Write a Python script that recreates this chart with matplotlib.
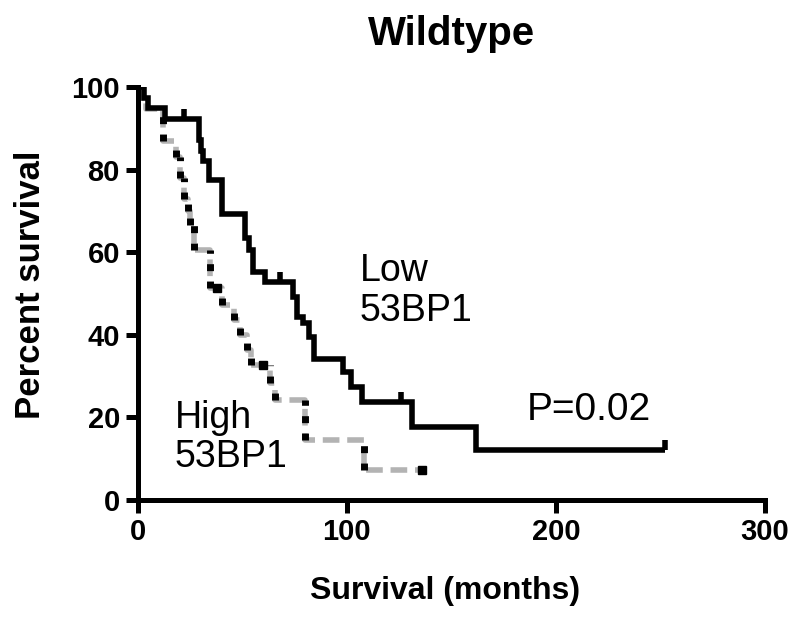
import matplotlib.pyplot as plt
import numpy as np

# Kaplan-Meier curves (time in months, percent survival)
low_t = [0, 3, 5, 13, 29, 30, 31, 34, 40, 51, 53, 55, 61, 74, 76, 79, 82, 84, 98, 102, 107, 131, 162, 252]
low_s = [100, 97.4, 94.9, 92.3, 87.2, 84.6, 82.0, 77.5, 69.2, 63.5, 60.5, 55.2, 52.8, 49.2, 44.3, 42.9, 39.5, 34.2, 31.0, 27.4, 23.7, 17.7, 12.0, 12.0]
low_cens_t = [22, 68, 126, 252]
low_cens_s = [92.3, 52.8, 23.7, 12.0]

high_t = [0, 2, 4, 12, 18, 20, 22, 24, 25, 27, 34.5, 40, 46, 49, 52, 54, 63, 65.5, 80, 108, 136]
high_s = [100, 97.3, 94.6, 87.0, 83.0, 78.0, 73.0, 70.0, 66.5, 60.5, 51.3, 47.2, 43.6, 40.0, 36.3, 32.7, 28.3, 24.2, 14.5, 7.2, 7.2]
high_cens_t = [38, 60, 136]
high_cens_s = [51.3, 32.7, 7.2]

x_ticks = [0, 100, 200, 300]
y_ticks = [0, 20, 40, 60, 80, 100]

plt.rcParams['font.family'] = ['Liberation Sans', 'DejaVu Sans']

fig = plt.figure(figsize=(8, 6.17), dpi=100)
ax = fig.add_axes([0.1725, 0.1896, 0.956 - 0.1725, 0.859 - 0.1896])

# high 53BP1: gray dashed steps, black squares along the drops
ax.plot(high_t, high_s, drawstyle='steps-post', color='#b3b3b3', lw=4,
        linestyle=(0, (3, 1.4)), dash_capstyle='butt')
ax.vlines(high_t[3:-1], high_s[3:-1], high_s[2:-2], color='black', lw=5,
          linestyle=(0, (1.0, 1.5)), capstyle='butt')
ax.plot(high_cens_t, high_cens_s, linestyle='none', marker='s', markersize=5.5,
        color='black')

# low 53BP1: solid black
ax.plot(low_t, low_s, drawstyle='steps-post', color='black', lw=4,
        solid_joinstyle='miter', solid_capstyle='butt')
ax.plot(low_cens_t, low_cens_s, linestyle='none', marker=2, markersize=7,
        markeredgewidth=4, color='black')

ax.set_xlim(0, 300)
ax.set_ylim(0, 100)
ax.set_xticks(x_ticks)
ax.set_yticks(y_ticks)
for s in ['top', 'right']:
    ax.spines[s].set_visible(False)
for s in ['left', 'bottom']:
    ax.spines[s].set_linewidth(3.6)
ax.tick_params(width=3.6, length=9, direction='out', pad=4)
for lab in ax.get_xticklabels() + ax.get_yticklabels():
    lab.set_fontweight('bold')
    lab.set_fontsize(21)

ax.set_title('Wildtype', fontsize=29, fontweight='bold', pad=30)
ax.set_xlabel('Survival (months)', fontsize=23, fontweight='bold')
ax.set_ylabel('Percent survival', fontsize=25, fontweight='bold')
ax.xaxis.set_label_coords(0.49, -0.185)
ax.yaxis.set_label_coords(-0.145, 0.52)

ax.text(106, 41.5, 'Low\n53BP1', fontsize=27, linespacing=1.12, va='bottom', ha='left')
ax.text(17.5, 6, 'High\n53BP1', fontsize=27, linespacing=1.12, va='bottom', ha='left')
ax.text(186, 17.5, 'P=0.02', fontsize=28, va='bottom', ha='left')

fig.savefig('out.png', dpi=100)
